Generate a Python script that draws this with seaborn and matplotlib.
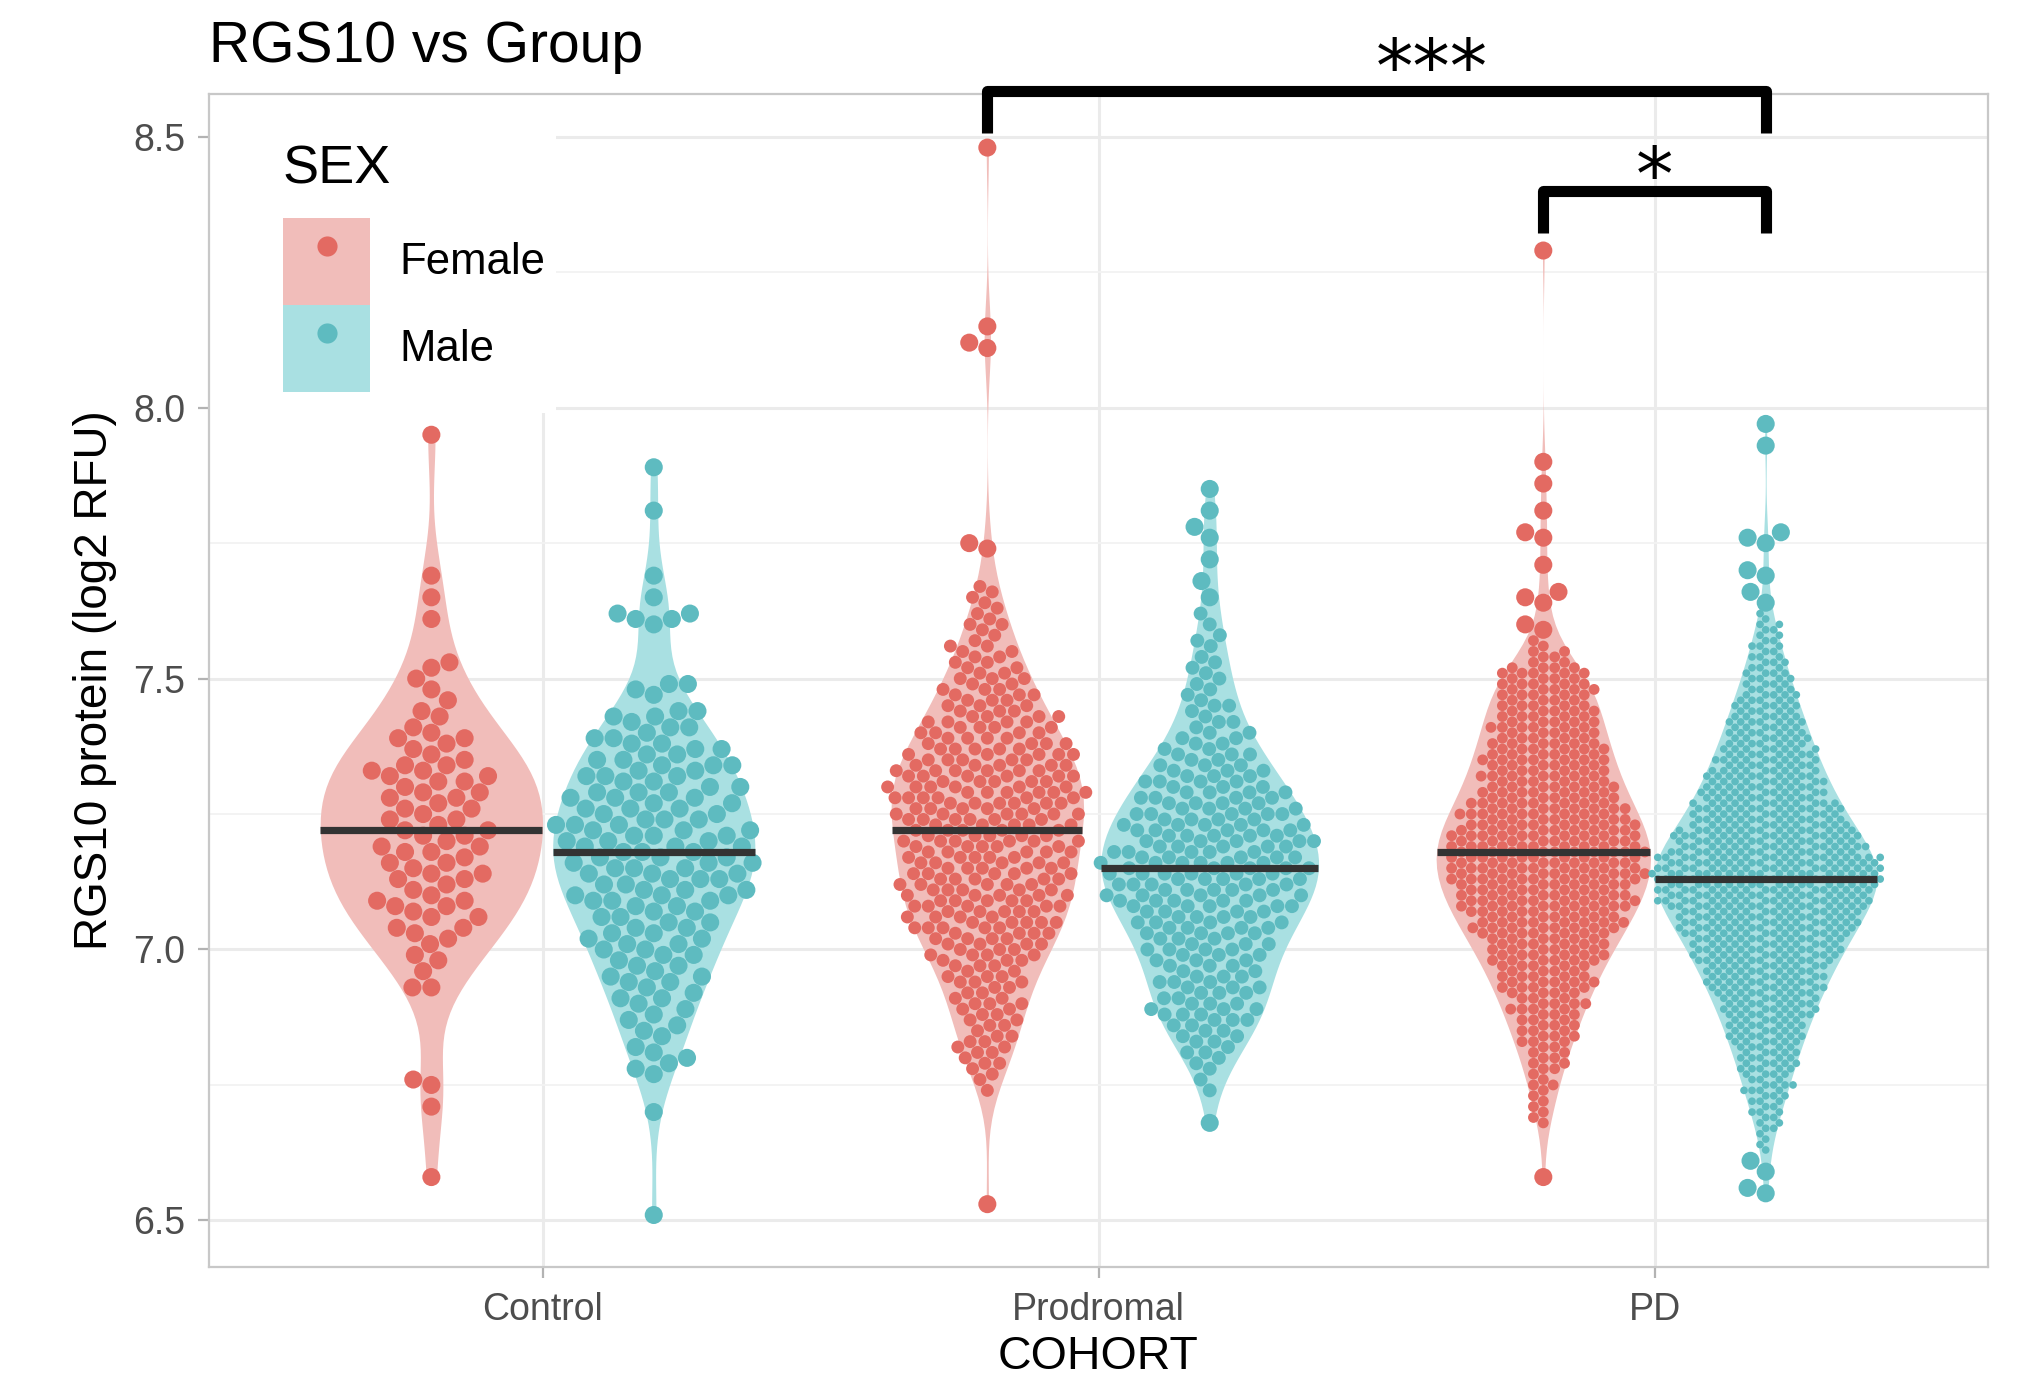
import numpy as np
import pandas as pd
import matplotlib
matplotlib.use("Agg")
import matplotlib.pyplot as plt
import seaborn as sns
from matplotlib.patches import Patch, Rectangle
from matplotlib.lines import Line2D
from matplotlib.legend_handler import HandlerTuple

# ---------------- data ----------------
cohorts = ["Control", "Prodromal", "PD"]
sexes = ["Female", "Male"]

ctrl_female = [6.58, 6.71, 6.75, 6.76, 6.93, 6.93, 6.96, 6.98, 6.99,
               7.01, 7.02, 7.03, 7.04, 7.04,
               7.06, 7.06, 7.07, 7.08, 7.08, 7.09, 7.09,
               7.10, 7.11, 7.12, 7.13, 7.13, 7.14, 7.14,
               7.15, 7.16, 7.16, 7.17, 7.18, 7.18, 7.19, 7.19,
               7.20, 7.21, 7.21, 7.22, 7.22, 7.23, 7.24, 7.24,
               7.25, 7.26, 7.26, 7.27, 7.28, 7.28, 7.29, 7.29,
               7.30, 7.31, 7.31, 7.32, 7.32, 7.33, 7.33, 7.34, 7.34,
               7.35, 7.36, 7.37, 7.38, 7.39, 7.39,
               7.40, 7.41, 7.43, 7.44,
               7.46, 7.48,
               7.50, 7.52, 7.53,
               7.61, 7.65, 7.69, 7.95]

ctrl_male = [6.51, 6.70,
             6.77, 6.78, 6.79,
             6.80, 6.81, 6.82, 6.84,
             6.85, 6.86, 6.87, 6.88, 6.89,
             6.90, 6.91, 6.91, 6.92, 6.93, 6.94, 6.94,
             6.95, 6.95, 6.96, 6.97, 6.97, 6.98, 6.99, 6.99,
             7.00, 7.00, 7.01, 7.01, 7.02, 7.02, 7.03, 7.03, 7.04, 7.04,
             7.05, 7.05, 7.06, 7.06, 7.07, 7.07, 7.08, 7.08, 7.09, 7.09, 7.09,
             7.10, 7.10, 7.10, 7.11, 7.11, 7.11, 7.12, 7.12, 7.13, 7.13, 7.13, 7.14, 7.14, 7.14,
             7.15, 7.15, 7.15, 7.16, 7.16, 7.16, 7.17, 7.17, 7.17, 7.18, 7.18, 7.18, 7.19, 7.19, 7.19,
             7.20, 7.20, 7.20, 7.21, 7.21, 7.21, 7.22, 7.22, 7.22, 7.23, 7.23, 7.23, 7.24, 7.24, 7.24,
             7.25, 7.25, 7.26, 7.26, 7.26, 7.27, 7.27, 7.28, 7.28, 7.28, 7.29, 7.29, 7.29,
             7.30, 7.30, 7.31, 7.31, 7.32, 7.32, 7.32, 7.33, 7.33, 7.34, 7.34, 7.34,
             7.35, 7.35, 7.36, 7.36, 7.37, 7.37, 7.38, 7.38, 7.39, 7.39,
             7.40, 7.41, 7.41, 7.42, 7.43, 7.43, 7.44, 7.44,
             7.47, 7.48, 7.49, 7.49,
             7.60, 7.61, 7.61, 7.62, 7.62,
             7.65, 7.69, 7.81, 7.89]

# larger groups: isolated tail values + counts per 0.01 level in the dense core
prod_female_tail = [6.53, 7.74, 7.75, 8.11, 8.12, 8.15, 8.48]
prod_female_core_start = 6.73
prod_female_core_counts = [0, 1, 0, 1, 1, 1, 2, 1, 2, 2, 2, 2, 1, 2, 2, 2, 2, 3, 2, 2,
                           2, 3, 3, 2, 3, 3, 4, 3, 4, 4, 4, 5, 5, 4, 5, 5, 5, 5, 5, 5,
                           5, 5, 5, 5, 5, 5, 5, 6, 5, 5, 5, 6, 6, 5, 6, 6, 6, 6, 5, 6,
                           6, 5, 5, 5, 5, 4, 4, 4, 4, 4, 4, 3, 3, 3, 3, 3, 2, 3, 2, 2,
                           2, 2, 2, 2, 1, 1, 1, 2, 1, 1, 1, 1, 1, 1, 1]

prod_male_tail = [6.68, 7.65, 7.68, 7.72, 7.76, 7.78, 7.81, 7.85]
prod_male_core_start = 6.73
prod_male_core_counts = [0, 1, 0, 1, 0, 1, 1, 1, 2, 1, 2, 2, 2, 2, 3, 3, 3, 3, 2, 3,
                         3, 3, 3, 2, 3, 3, 3, 4, 3, 3, 4, 4, 4, 4, 4, 5, 5, 5, 5, 5,
                         5, 6, 5, 6, 5, 5, 5, 5, 5, 5, 5, 4, 5, 4, 4, 4, 4, 3, 4, 3,
                         3, 3, 2, 3, 2, 2, 2, 2, 1, 2, 1, 1, 2, 1, 1, 1, 1, 1, 1, 1,
                         1, 1, 0, 1, 1, 1, 0, 1, 0, 1]

pd_female_tail = [6.58, 7.59, 7.60, 7.64, 7.65, 7.66, 7.71, 7.76, 7.77, 7.81, 7.86, 7.90, 8.29]
pd_female_core_start = 6.68
pd_female_core_counts = [1, 1, 1, 1, 1, 1, 1, 2, 1, 1, 2, 2, 2, 2, 2, 3, 3, 3, 3, 3,
                         3, 4, 4, 3, 4, 5, 5, 5, 4, 5, 6, 6, 6, 6, 6, 7, 8, 8, 7, 8,
                         9, 9, 9, 8, 9, 10, 10, 10, 9, 10, 10, 10, 9, 10, 9, 9, 8, 9, 8, 8,
                         7, 7, 7, 6, 7, 6, 6, 7, 6, 6, 6, 5, 5, 6, 5, 5, 5, 5, 4, 5,
                         5, 5, 4, 5, 4, 2, 2, 2, 1, 1]

pd_male_tail = [6.55, 6.56, 6.59, 6.61, 7.64, 7.66, 7.69, 7.70, 7.75, 7.76, 7.77, 7.93, 7.97]
pd_male_core_start = 6.63
pd_male_core_counts = [1, 1, 1, 1, 2, 2, 2, 3, 2, 3, 3, 4, 4, 3, 4, 5, 5, 5, 5, 5,
                       6, 7, 6, 7, 6, 8, 8, 8, 8, 9, 10, 10, 10, 10, 10, 12, 12, 13, 12, 13,
                       14, 15, 15, 15, 15, 17, 18, 17, 18, 18, 19, 19, 19, 18, 19, 16, 16, 15, 16, 15,
                       13, 13, 12, 13, 12, 10, 11, 10, 10, 10, 9, 8, 9, 8, 8, 7, 7, 7, 6, 7,
                       6, 5, 6, 5, 5, 4, 4, 4, 4, 3, 3, 3, 2, 3, 2, 2, 2, 2, 1, 1]

# ---------------- styling ----------------
fill_pal = {"Female": "#F1BDBA", "Male": "#A9E0E2"}
dot_pal = {"Female": "#E36A62", "Male": "#5EBBC0"}
big_size = 13
core_size = {("Prodromal", "Female"): 9.3, ("Prodromal", "Male"): 10.0,
             ("PD", "Female"): 7.8, ("PD", "Male"): 5.5}

plt.rcParams["font.family"] = ["Liberation Sans", "DejaVu Sans"]


def core_values(start, counts):
    levels = np.round(start + 0.01 * np.arange(len(counts)), 2)
    return np.repeat(levels, counts)


rows = []
for v in ctrl_female:
    rows.append(("Control", "Female", v, "big"))
for v in ctrl_male:
    rows.append(("Control", "Male", v, "big"))
groups = [("Prodromal", "Female", prod_female_tail, prod_female_core_start, prod_female_core_counts),
          ("Prodromal", "Male", prod_male_tail, prod_male_core_start, prod_male_core_counts),
          ("PD", "Female", pd_female_tail, pd_female_core_start, pd_female_core_counts),
          ("PD", "Male", pd_male_tail, pd_male_core_start, pd_male_core_counts)]
for c, s, tail, start, counts in groups:
    for v in tail:
        rows.append((c, s, v, "big"))
    for v in core_values(start, counts):
        rows.append((c, s, float(v), "core"))
df = pd.DataFrame(rows, columns=["cohort", "sex", "value", "part"])

# ---------------- figure ----------------
fig = plt.figure(figsize=(20.27, 13.96), dpi=100)
ax = fig.add_axes([0.1031, 0.0924, 0.8777, 0.8403])

sns.violinplot(data=df, x="cohort", y="value", hue="sex", order=cohorts, hue_order=sexes,
               palette=fill_pal, saturation=1, inner=None, cut=0, linewidth=0,
               width=0.8, dodge=True, density_norm="area", bw_adjust=0.85,
               legend=False, ax=ax, zorder=1)
violins = list(ax.collections)

offs = {"Female": -0.2, "Male": 0.2}
medians = df.groupby(["cohort", "sex"])["value"].median()

# median line across the violin width
for coll in violins:
    verts = coll.get_paths()[0].vertices
    xs, ys = verts[:, 0], verts[:, 1]
    center = 0.5 * (xs.min() + xs.max())
    best = None
    for i, c in enumerate(cohorts):
        for s in sexes:
            d = abs(i + offs[s] - center)
            if best is None or d < best[0]:
                best = (d, c, s)
    _, c, s = best
    m = medians[(c, s)]
    left = verts[xs < center - 1e-9]
    right = verts[xs > center + 1e-9]
    lo = left[np.argsort(left[:, 1])]
    ro = right[np.argsort(right[:, 1])]
    xl = np.interp(m, lo[:, 1], lo[:, 0])
    xr = np.interp(m, ro[:, 1], ro[:, 0])
    ax.plot([xl, xr], [m, m], color="#333333", lw=5.2, solid_capstyle="butt", zorder=5)

for (c, s), g in df.groupby(["cohort", "sex"]):
    for part in ["core", "big"]:
        sub = g[g["part"] == part]
        if sub.empty:
            continue
        sz = big_size if part == "big" else core_size[(c, s)]
        sns.swarmplot(data=sub, x="cohort", y="value", hue="sex", order=cohorts,
                      hue_order=sexes, dodge=True, palette=dot_pal, size=sz,
                      linewidth=0, legend=False, warn_thresh=1.0, ax=ax, zorder=3)

# significance brackets
br_kw = dict(color="black", lw=8, clip_on=False, solid_joinstyle="round",
             solid_capstyle="butt", zorder=6)
x1, x2 = 1 + offs["Female"], 2 + offs["Male"]
ax.plot([x1, x1, x2, x2], [8.507, 8.585, 8.585, 8.507], **br_kw)
x3 = 2 + offs["Female"]
ax.plot([x3, x3, x2, x2], [8.323, 8.40, 8.40, 8.323], **br_kw)
ax.text(1.6, 8.582, "***", ha="center", va="baseline", fontsize=54,
        family="DejaVu Sans", clip_on=False, zorder=6)
ax.text(2.0, 8.383, "*", ha="center", va="baseline", fontsize=54,
        family="DejaVu Sans", clip_on=False, zorder=6)

# axes formatting
ax.set_xlim(-0.6, 2.6)
ax.set_ylim(6.414, 8.579)
ax.set_xticks(range(len(cohorts)))
ax.set_xticklabels(cohorts)
ax.set_yticks([6.5, 7.0, 7.5, 8.0, 8.5])
ax.set_yticklabels(["6.5", "7.0", "7.5", "8.0", "8.5"])
ax.set_yticks([6.75, 7.25, 7.75, 8.25], minor=True)
ax.set_axisbelow(True)
ax.grid(which="major", color="#EBEBEB", lw=2.2)
ax.grid(which="minor", axis="y", color="#F2F2F2", lw=1.3)
ax.tick_params(which="major", length=8, width=1.6, color="#B3B3B3",
               labelsize=27, labelcolor="#4D4D4D")
ax.tick_params(axis="y", pad=9)
ax.tick_params(axis="x", pad=10)
ax.tick_params(which="minor", length=0)
for sp in ax.spines.values():
    sp.set_color("#C8C8C8")
    sp.set_linewidth(1.6)
ax.set_xlabel("COHORT", fontsize=33.5, labelpad=5, color="black")
ax.set_ylabel("RGS10 protein (log2 RFU)", fontsize=33, labelpad=12, color="black")
ax.set_title("RGS10 vs Group", loc="left", fontsize=41, pad=23)

# legend background (covers the grid like the legend box of the original)
ax.add_patch(Rectangle((0, 0.728), 0.195, 0.272, transform=ax.transAxes,
                       facecolor="white", edgecolor="none", zorder=0.9))
handles = [(Patch(facecolor=fill_pal[s], edgecolor="none"),
            Line2D([], [], marker="o", ls="", markerfacecolor=dot_pal[s],
                   markeredgecolor="none", markersize=14.5)) for s in sexes]
leg = ax.legend(handles, sexes, title="SEX", loc="upper left",
                bbox_to_anchor=(0.0416, 0.9567), frameon=False,
                fontsize=31.5, title_fontsize=39, borderaxespad=0,
                handlelength=2.0, handleheight=2.68, labelspacing=0, handletextpad=0.65,
                borderpad=0, alignment="left",
                handler_map={tuple: HandlerTuple(ndivide=1)})
leg._legend_box.sep = 16.5
leg.set_zorder(7)

fig.savefig("out.png", dpi=100)
